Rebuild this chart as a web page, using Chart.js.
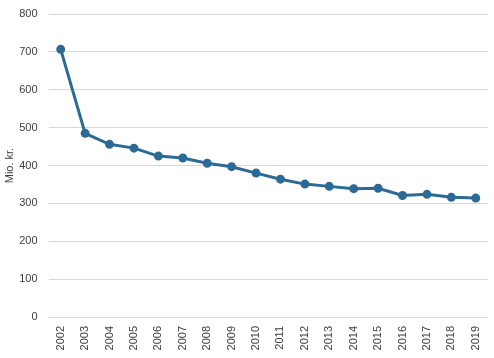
<!DOCTYPE html>
<html>
<head>
<meta charset="utf-8">
<script src="https://cdn.jsdelivr.net/npm/chart.js@4"></script>
<style>
  html, body { margin: 0; padding: 0; background: #fff; }
  #wrap { width: 494px; height: 358px; }
</style>
</head>
<body>
<div id="wrap"><canvas id="myLineChart"></canvas></div>
<script>
var years = ["2002", "2003", "2004", "2005", "2006", "2007", "2008", "2009", "2010",
  "2011", "2012", "2013", "2014", "2015", "2016", "2017", "2018", "2019"];
var amounts = [707, 485, 456, 446, 425, 420, 406, 397, 380, 364, 351, 345, 339, 340, 321, 324, 316, 314];
var yTicks = [0, 100, 200, 300, 400, 500, 600, 700, 800];
var yTitle = "Mio. kr.";

document.addEventListener("DOMContentLoaded", function () {
  var ctx = document.getElementById("myLineChart").getContext("2d");
  new Chart(ctx, {
    type: "line",
    data: {
      labels: years,
      datasets: [
        {
          label: yTitle,
          data: amounts,
          borderColor: "#2c6a96",
          backgroundColor: "#2c6a96",
          borderWidth: 3,
          pointRadius: 3,
          pointHoverRadius: 3,
          tension: 0,
        },
      ],
    },
    options: {
      responsive: true,
      maintainAspectRatio: false,
      animation: false,
      layout: { padding: { top: 0, right: 3, left: 3, bottom: 0 } },
      plugins: {
        legend: { display: false },
        tooltip: { enabled: false },
      },
      scales: {
        x: {
          offset: true,
          grid: { display: false, drawTicks: false },
          border: { display: false },
          ticks: {
            minRotation: 90,
            maxRotation: 90,
            padding: 9,
            color: "#404040",
            font: { family: "Liberation Sans", size: 11 },
          },
          afterFit: function (axis) {
            axis.height = 41;
            axis.paddingLeft = 0;
            axis.paddingRight = 0;
          },
        },
        y: {
          min: 0,
          max: 800,
          afterBuildTicks: function (axis) {
            axis.ticks = yTicks.map(function (v) { return { value: v }; });
          },
          grid: {
            color: "#d9d9d9",
            lineWidth: 1,
            drawTicks: true,
            tickLength: 3.5,
            tickColor: "rgba(0,0,0,0)",
          },
          border: { display: false },
          ticks: {
            padding: 7.5,
            color: "#404040",
            font: { family: "Liberation Sans", size: 11 },
          },
          title: {
            display: true,
            text: yTitle,
            color: "#404040",
            padding: 0,
            font: { family: "Liberation Sans", size: 11 },
          },
          afterFit: function (axis) { axis.width = 45.5; },
        },
      },
    },
  });
});
</script>
</body>
</html>
